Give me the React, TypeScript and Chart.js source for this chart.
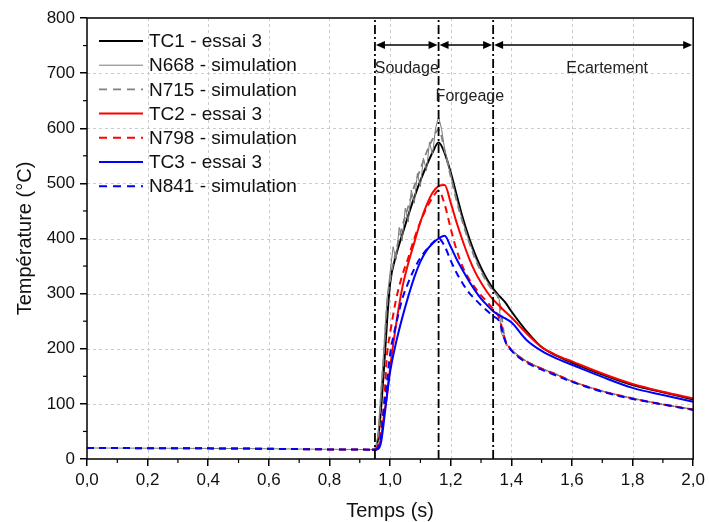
import React, { useEffect, useRef } from 'react';
import { Chart, registerables } from 'chart.js';

Chart.register(...registerables);

// ---------- data ----------
// simulation time grid (s)
const time = [0, 0.5, 0.94, 0.95, 0.96, 0.97, 0.98, 0.99, 1.0, 1.02, 1.04, 1.06, 1.08, 1.1, 1.12, 1.14, 1.16, 1.18, 1.2, 1.22, 1.24, 1.26, 1.28, 1.3, 1.32, 1.34, 1.36, 1.38, 1.4, 1.45, 1.5, 1.55, 1.6, 1.7, 1.8, 1.9, 2.0];
// measurement time grid (s)
const timeTC = [0.94, 0.95, 0.96, 0.97, 0.98, 0.99, 1.0, 1.02, 1.04, 1.06, 1.08, 1.1, 1.12, 1.14, 1.16, 1.18, 1.2, 1.22, 1.24, 1.26, 1.28, 1.3, 1.32, 1.34, 1.36, 1.38, 1.4, 1.45, 1.5, 1.55, 1.6, 1.7, 1.8, 1.9, 2.0];
// fine grid for node N668
const timeN668 = [0, 0.5, 0.94, 0.95, 0.96, 0.97, 0.98, 0.99, 1.0, 1.01, 1.02, 1.03, 1.04, 1.05, 1.06, 1.07, 1.08, 1.09, 1.1, 1.11, 1.12, 1.13, 1.14, 1.15, 1.16, 1.17, 1.18, 1.2, 1.22, 1.24, 1.26, 1.28, 1.3, 1.32, 1.34, 1.36, 1.365, 1.38, 1.4, 1.45, 1.5, 1.55, 1.6, 1.7, 1.8, 1.9, 2.0];

const tc1 = [17, 18, 35, 90, 165, 250, 318, 370, 407, 442, 475, 505, 532, 556, 574, 555, 520, 478, 437, 402, 372, 347, 326, 309, 296, 284, 268, 232, 203, 187, 175, 153, 134, 121, 108];
const n668 = [20, 19, 17, 18, 42, 125, 205, 292, 338, 385, 362, 420, 396, 455, 430, 488, 464, 518, 494, 546, 523, 575, 552, 600, 621, 598, 562, 516, 470, 430, 396, 366, 342, 322, 306, 290, 232, 212, 198, 177, 164, 153, 141, 123, 110, 99, 90];
const n715 = [20, 19, 17, 18, 38, 115, 195, 280, 325, 378, 422, 458, 495, 526, 556, 580, 598, 560, 512, 467, 428, 394, 364, 340, 320, 304, 288, 214, 198, 177, 164, 153, 141, 123, 110, 99, 90];
const tc2 = [17, 17, 20, 38, 80, 115, 165, 245, 310, 355, 393, 430, 460, 483, 495, 497, 465, 428, 395, 365, 340, 320, 303, 289, 278, 267, 257, 228, 203, 188, 177, 155, 136, 122, 110];
const n798 = [20, 19, 17, 17, 25, 55, 100, 190, 228, 290, 333, 365, 400, 430, 455, 474, 487, 462, 418, 378, 348, 327, 311, 297, 285, 272, 256, 216, 198, 177, 164, 153, 141, 123, 110, 99, 90];
const tc3 = [17, 17, 18, 30, 70, 118, 158, 212, 256, 295, 330, 358, 378, 391, 400, 405, 385, 362, 342, 323, 306, 291, 279, 268, 261, 255, 248, 216, 196, 182, 171, 149, 129, 116, 104];
const n841 = [20, 19, 17, 17, 20, 40, 95, 140, 190, 245, 290, 320, 345, 365, 380, 392, 400, 386, 360, 337, 318, 302, 290, 279, 269, 259, 250, 214, 197, 175, 162, 151, 140, 122, 109, 99, 89];

const seriesLabels = ['TC1 - essai 3', 'N668 - simulation', 'N715 - simulation', 'TC2 - essai 3', 'N798 - simulation', 'TC3 - essai 3', 'N841 - simulation'];

const phaseTimes = [0.95, 1.16, 1.34, 2.0];
const phaseLabels = ['Soudage', 'Forgeage', 'Ecartement'];

const xTitle = 'Temps (s)';
const yTitle = 'Température (°C)';

const FONT = "'Liberation Sans', Arial, Helvetica, sans-serif";

const pts = (xs: number[], ys: number[]) => xs.map((x, i) => ({ x, y: ys[i] }));

function arrowHead(ctx: CanvasRenderingContext2D, tipX: number, y: number, dir: number) {
  const len = 9;
  const half = 4;
  ctx.beginPath();
  ctx.moveTo(tipX, y);
  ctx.lineTo(tipX - dir * len, y - half);
  ctx.lineTo(tipX - dir * len, y + half);
  ctx.closePath();
  ctx.fill();
}

const decorPlugin = {
  id: 'decor',
  beforeDatasetsDraw(chart: any) {
    const { ctx, chartArea: a, scales } = chart;
    const xs = scales.x;
    const ys = scales.y;
    ctx.save();
    ctx.strokeStyle = '#cccccc';
    ctx.lineWidth = 1;
    ctx.setLineDash([3, 3]);
    xs.ticks.forEach((t: any) => {
      const px = Math.round(xs.getPixelForValue(t.value)) + 0.5;
      if (px <= a.left + 2 || px >= a.right - 2) return;
      ctx.beginPath();
      ctx.moveTo(px, a.top);
      ctx.lineTo(px, a.bottom);
      ctx.stroke();
    });
    ys.ticks.forEach((t: any) => {
      const py = Math.round(ys.getPixelForValue(t.value)) + 0.5;
      if (py <= a.top + 2 || py >= a.bottom - 2) return;
      ctx.beginPath();
      ctx.moveTo(a.left, py);
      ctx.lineTo(a.right, py);
      ctx.stroke();
    });
    ctx.restore();
  },
  afterDatasetsDraw(chart: any) {
    const { ctx, chartArea: a, scales } = chart;
    const xs = scales.x;
    const ys = scales.y;
    ctx.save();

    // phase separators (dash-dot)
    ctx.strokeStyle = '#000';
    ctx.lineWidth = 1.8;
    ctx.setLineDash([9, 3, 2, 3]);
    phaseTimes.slice(0, 3).forEach((t) => {
      const px = xs.getPixelForValue(t);
      ctx.beginPath();
      ctx.moveTo(px, a.bottom);
      ctx.lineTo(px, a.top);
      ctx.stroke();
    });
    ctx.setLineDash([]);

    // arrows
    const ay = a.top + 27;
    ctx.fillStyle = '#000';
    ctx.lineWidth = 1.5;
    for (let i = 0; i < phaseTimes.length - 1; i++) {
      const x1 = xs.getPixelForValue(phaseTimes[i]);
      const x2 = xs.getPixelForValue(phaseTimes[i + 1]);
      ctx.beginPath();
      ctx.moveTo(x1 + 4, ay);
      ctx.lineTo(x2 - 4, ay);
      ctx.stroke();
      arrowHead(ctx, x1 + 1, ay, -1);
      arrowHead(ctx, x2 - 1, ay, 1);
    }

    // phase labels
    ctx.font = `16px ${FONT}`;
    ctx.textAlign = 'center';
    ctx.textBaseline = 'middle';
    ctx.fillStyle = '#222';
    const lx = (i: number) => (xs.getPixelForValue(phaseTimes[i]) + xs.getPixelForValue(phaseTimes[i + 1])) / 2;
    ctx.fillText(phaseLabels[0], lx(0), ay + 24);
    ctx.fillText(phaseLabels[1], lx(1) + 4, ay + 52);
    ctx.fillText(phaseLabels[2], lx(2) + 14, ay + 24);

    // frame
    ctx.strokeStyle = '#000';
    ctx.lineWidth = 1.5;
    ctx.strokeRect(a.left, a.top, a.right - a.left, a.bottom - a.top);

    // minor ticks
    ctx.lineWidth = 1.2;
    const xt = xs.ticks.map((t: any) => t.value);
    for (let i = 0; i < xt.length - 1; i++) {
      const px = xs.getPixelForValue((xt[i] + xt[i + 1]) / 2);
      ctx.beginPath();
      ctx.moveTo(px, a.bottom);
      ctx.lineTo(px, a.bottom + 4);
      ctx.stroke();
    }
    const yt = ys.ticks.map((t: any) => t.value);
    for (let i = 0; i < yt.length - 1; i++) {
      const py = ys.getPixelForValue((yt[i] + yt[i + 1]) / 2);
      ctx.beginPath();
      ctx.moveTo(a.left, py);
      ctx.lineTo(a.left - 4, py);
      ctx.stroke();
    }

    // legend
    ctx.font = `19px ${FONT}`;
    ctx.textAlign = 'left';
    ctx.textBaseline = 'middle';
    chart.data.datasets.forEach((ds: any, i: number) => {
      const ry = a.top + 23 + i * 24.2;
      const sx = a.left + 12;
      ctx.save();
      ctx.strokeStyle = ds.borderColor;
      ctx.lineWidth = ds.borderWidth;
      ctx.setLineDash(ds.borderDash && ds.borderDash.length ? [8, 6] : []);
      ctx.beginPath();
      ctx.moveTo(sx, ry);
      ctx.lineTo(sx + 44, ry);
      ctx.stroke();
      ctx.restore();
      ctx.fillStyle = '#111';
      ctx.fillText(ds.label, sx + 50, ry + 1);
    });

    // axis titles
    ctx.font = `20px ${FONT}`;
    ctx.fillStyle = '#111';
    ctx.textAlign = 'center';
    ctx.fillText(xTitle, (a.left + a.right) / 2, a.bottom + 52);
    ctx.save();
    ctx.translate(a.left - 62, (a.top + a.bottom) / 2);
    ctx.rotate(-Math.PI / 2);
    ctx.fillText(yTitle, 0, 0);
    ctx.restore();

    ctx.restore();
  },
};

export default function App() {
  const ref = useRef<HTMLCanvasElement | null>(null);

  useEffect(() => {
    if (!ref.current) return;
    const mk = (label: string, xs: number[], ys: number[], color: string, width: number, dash: number[], order: number, smooth: boolean) => ({
      label,
      data: pts(xs, ys),
      borderColor: color,
      backgroundColor: color,
      borderWidth: width,
      borderDash: dash,
      pointRadius: 0,
      fill: false,
      order,
      cubicInterpolationMode: smooth ? 'monotone' : 'default',
      tension: 0,
    });
    const chart = new Chart(ref.current, {
      type: 'line',
      data: {
        datasets: [
          mk(seriesLabels[0], timeTC, tc1, '#000000', 2, [], 6, true),
          mk(seriesLabels[1], timeN668, n668, '#7a7a7a', 1, [], 5, false),
          mk(seriesLabels[2], time, n715, '#808080', 1.8, [7, 5], 4, true),
          mk(seriesLabels[3], timeTC, tc2, '#ff0000', 2, [], 3, true),
          mk(seriesLabels[4], time, n798, '#ff0000', 2, [7, 5], 2, true),
          mk(seriesLabels[5], timeTC, tc3, '#0000ff', 2, [], 1, true),
          mk(seriesLabels[6], time, n841, '#0000ff', 2, [7, 5], 0, true),
        ] as any,
      },
      options: {
        animation: false,
        responsive: true,
        maintainAspectRatio: false,
        devicePixelRatio: 1,
        parsing: false as any,
        layout: { padding: { top: 18, right: 14, left: 0, bottom: 0 } },
        plugins: {
          legend: { display: false },
          tooltip: { enabled: false },
        },
        scales: {
          x: {
            type: 'linear',
            min: 0,
            max: 2,
            afterFit: (s: any) => { s.height = 63; },
            ticks: {
              stepSize: 0.2,
              autoSkip: false,
              maxRotation: 0,
              padding: 4,
              color: '#111',
              font: { family: FONT, size: 17 },
              callback: (v: any) => Number(v).toFixed(1).replace('.', ','),
            },
            grid: { display: true, drawOnChartArea: false, drawTicks: true, tickLength: 7, tickColor: '#000', tickWidth: 1.5, color: '#000', lineWidth: 1.5 },
            border: { display: false },
          },
          y: {
            type: 'linear',
            min: 0,
            max: 800,
            afterFit: (s: any) => { s.width = 87; },
            ticks: {
              stepSize: 100,
              padding: 5,
              color: '#111',
              font: { family: FONT, size: 17 },
            },
            grid: { display: true, drawOnChartArea: false, drawTicks: true, tickLength: 7, tickColor: '#000', tickWidth: 1.5, color: '#000', lineWidth: 1.5 },
            border: { display: false },
          },
        },
      } as any,
      plugins: [decorPlugin],
    });
    return () => chart.destroy();
  }, []);

  return (
    <div style={{ position: 'fixed', left: 0, top: 0, width: 709, height: 522, background: '#fff' }}>
      <canvas ref={ref} />
    </div>
  );
}
